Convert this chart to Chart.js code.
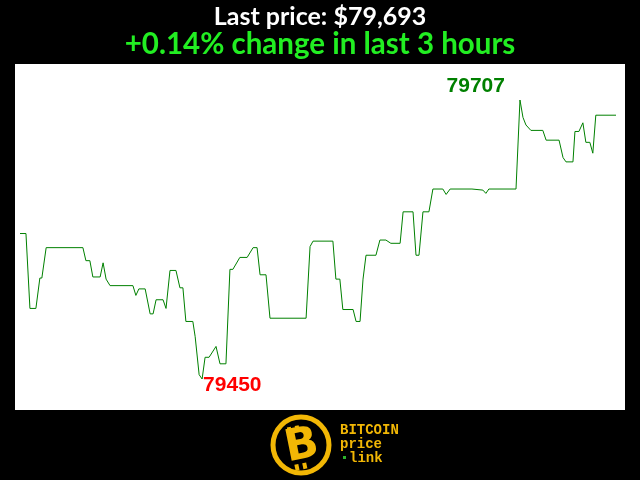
<!DOCTYPE html>
<html>
<head>
<meta charset="utf-8">
<script src="https://cdn.jsdelivr.net/npm/chart.js@4.4.1/dist/chart.umd.min.js"></script>
<style>
  html, body { margin: 0; padding: 0; background: #000; }
  #wrap { width: 640px; height: 480px; position: relative; }
</style>
</head>
<body>
<div id="wrap"><canvas id="priceChart" width="640" height="480"></canvas></div>
<script>
// minutes since start of the 3 hour window
const minutes = [
  0, 1.8, 3.0, 4.8, 6.0, 6.6, 7.9, 19.0, 19.9, 21.1, 22.0, 24.2, 25.1, 26.0, 27.2,
  34.1, 35.0, 35.9, 37.8, 39.3, 40.2, 41.1, 43.2, 44.1, 45.3, 47.1, 48.3, 49.2, 50.1,
  52.2, 52.9, 54.1, 55.0, 55.9, 57.1, 59.2, 60.4, 62.2, 63.4, 64.3, 66.4, 68.6, 70.4,
  71.6, 72.5, 74.3, 75.5, 86.4, 87.6, 88.5, 94.5, 95.4, 96.6, 97.5, 100.6, 101.5,
  102.7, 103.6, 104.5, 107.5, 108.7, 110.5, 112.0, 114.8, 115.7, 118.7, 119.6, 120.5,
  121.7, 123.5, 124.7, 127.7, 128.7, 129.9, 136.5, 139.8, 140.7, 141.6, 149.8, 151.0,
  151.9, 152.8, 154.3, 157.9, 158.9, 162.8, 164.0, 164.9, 167.0, 167.6, 168.8, 170.0,
  170.9, 172.1, 173.0, 173.9, 180.0
];
const prices = [
  79584, 79584, 79515, 79515, 79543, 79543, 79571, 79571, 79559, 79559, 79544, 79544, 79557, 79542, 79536,
  79536, 79527, 79533, 79533, 79510, 79510, 79523, 79523, 79515, 79550, 79550, 79534, 79534, 79503,
  79503, 79489, 79454, 79450, 79470, 79470, 79480, 79464, 79464, 79551, 79551, 79562, 79562, 79571,
  79571, 79546, 79546, 79506, 79506, 79572, 79577, 79577, 79542, 79542, 79514, 79514, 79503,
  79503, 79542, 79564, 79564, 79578, 79578, 79575, 79575, 79604, 79604, 79564, 79564,
  79604, 79604, 79625, 79625, 79620, 79625, 79625, 79624, 79621, 79625, 79625, 79707,
  79691, 79684, 79679, 79679, 79670, 79670, 79654, 79650, 79650, 79678, 79678, 79686,
  79668, 79668, 79658, 79693, 79693
];
const lastPrice = "$79,693";
const changeText = "+0.14% change in last 3 hours";

const points = minutes.map((m, i) => ({ x: m, y: prices[i] }));
const maxPrice = Math.max(...prices);
const minPrice = Math.min(...prices);

// fond noir, cadre blanc, titres, etiquettes min/max et logo
const decorPlugin = {
  id: "decor",
  beforeDraw(chart) {
    const ctx = chart.ctx;
    ctx.save();
    ctx.fillStyle = "#000";
    ctx.fillRect(0, 0, chart.width, chart.height);
    ctx.fillStyle = "#fff";
    ctx.fillRect(15, 64, 610, 346);
    ctx.restore();
  },
  afterDraw(chart) {
    const ctx = chart.ctx;
    const xs = chart.scales.x;
    const ys = chart.scales.y;
    ctx.save();
    ctx.textAlign = "center";
    ctx.textBaseline = "alphabetic";
    ctx.fillStyle = "#fff";
    ctx.font = "bold 25px Lato";
    ctx.fillText("Last price: " + lastPrice, 320, 25);
    ctx.fillStyle = "#22ee22";
    ctx.font = "bold 29.5px Lato";
    ctx.fillText(changeText, 320, 54);

    // max / min labels
    const iMax = prices.indexOf(maxPrice);
    const iMin = prices.indexOf(minPrice);
    ctx.font = "bold 21px 'Liberation Sans'";
    ctx.fillStyle = "#008000";
    ctx.textAlign = "right";
    ctx.fillText(String(maxPrice), xs.getPixelForValue(minutes[iMax]) - 15, ys.getPixelForValue(maxPrice) - 8);
    ctx.fillStyle = "#ff0000";
    ctx.textAlign = "left";
    ctx.fillText(String(minPrice), xs.getPixelForValue(minutes[iMin]) + 1, ys.getPixelForValue(minPrice) + 12);

    // logo
    const gold = "#f2b705";
    ctx.strokeStyle = gold;
    ctx.lineWidth = 5;
    ctx.beginPath();
    ctx.arc(301, 445, 28, 0, Math.PI * 2);
    ctx.stroke();
    ctx.save();
    ctx.translate(302, 447);
    ctx.rotate(-0.2);
    ctx.fillStyle = gold;
    ctx.textAlign = "center";
    ctx.textBaseline = "middle";
    ctx.font = "bold 44px 'DejaVu Sans'";
    ctx.fillText("B", 0, 0);
    ctx.fillRect(-11, -22, 4, 6);
    ctx.fillRect(-3, -22, 4, 6);
    ctx.fillRect(-11, 16, 4, 6);
    ctx.fillRect(-3, 16, 4, 6);
    ctx.restore();
    ctx.fillStyle = gold;
    ctx.textAlign = "left";
    ctx.textBaseline = "alphabetic";
    ctx.font = "bold 14px 'Liberation Mono'";
    ctx.fillText("BITCOIN", 340, 434);
    ctx.fillText("price", 340, 448);
    ctx.fillText("link", 349, 462);
    ctx.fillStyle = "#2bb32b";
    ctx.fillRect(343, 456, 3, 3);
    ctx.restore();
  }
};

const ctx = document.getElementById("priceChart").getContext("2d");
const priceChart = new Chart(ctx, {
  type: "line",
  data: {
    datasets: [
      {
        data: points,
        borderColor: "#008000",
        borderWidth: 1,
        pointRadius: 0,
        tension: 0,
        fill: false,
      },
    ],
  },
  options: {
    responsive: false,
    animation: false,
    maintainAspectRatio: false,
    layout: { padding: { left: 20, right: 24, top: 100, bottom: 101 } },
    plugins: {
      legend: { display: false },
      tooltip: { enabled: false },
    },
    scales: {
      x: { type: "linear", min: 0, max: 180, display: false },
      y: { min: minPrice, max: maxPrice, display: false },
    },
  },
  plugins: [decorPlugin],
});
</script>
</body>
</html>
